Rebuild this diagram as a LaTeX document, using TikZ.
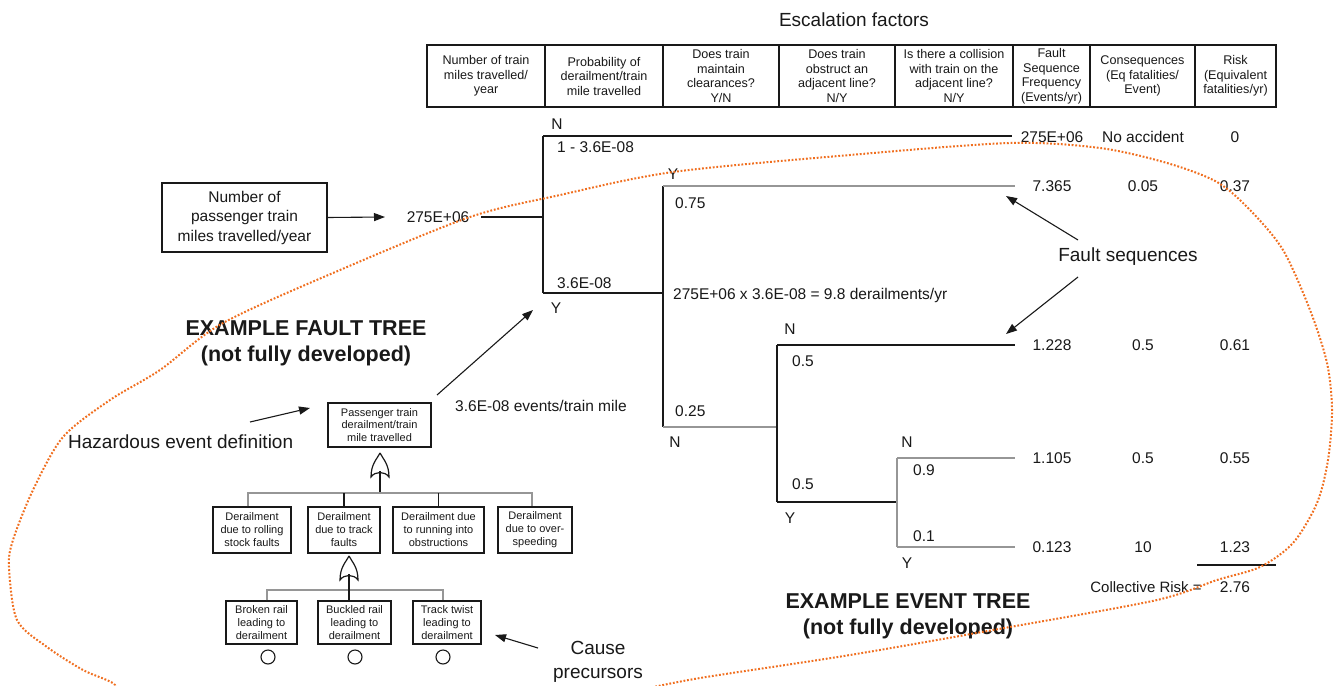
\documentclass[tikz,border=0pt]{standalone}
\usepackage{fontspec}
\setmainfont{Liberation Sans}
\usetikzlibrary{arrows.meta}
\definecolor{ink}{RGB}{25,25,25}
\definecolor{lgray}{RGB}{150,150,150}
\definecolor{dotor}{RGB}{240,110,30}
\tikzset{
  every node/.style={inner sep=0pt, text=ink},
  hdr/.style={draw=ink, line width=1.2pt, minimum height=62pt, align=center, font=\fontsize{12.6}{14.5}\selectfont},
  lab/.style={font=\fontsize{15.5}{18}\selectfont, text height=11.1pt, text depth=0pt},
  big/.style={font=\fontsize{19}{24}\selectfont, align=center},
  ttl/.style={font=\bfseries\fontsize{21.5}{26}\selectfont, align=center},
  inbox/.style={draw=ink, line width=1.3pt, align=center, font=\fontsize{15.5}{19.5}\selectfont},
  ftbox/.style={draw=ink, line width=1.3pt, align=center, font=\fontsize{11}{13}\selectfont},
  et/.style={draw=ink, line width=1.4pt},
  etg/.style={draw=lgray, line width=1.6pt},
  ftl/.style={draw=ink, line width=1.2pt},
  ftg/.style={draw=lgray, line width=1.5pt},
  arr/.style={draw=ink, line width=1.1pt, -{Triangle[length=11pt,width=8pt]}},
  orgate/.pic={\draw[ink, line width=1.2pt] (0,0) .. controls (3,6) and (9,11) .. (9,24) .. controls (5,18) and (-5,18) .. (-9,24) .. controls (-9,11) and (-3,6) .. (0,0);},
  precur/.style={draw=ink, line width=1.1pt, circle, minimum size=14pt}
}
\begin{document}
\begin{tikzpicture}[x=1pt,y=-1pt]
\useasboundingbox (0,0) rectangle (1337,685);
\fill[white] (0,0) rectangle (1337,685);

% ---------- header ----------
\node[big] (esc) at (854,20) {Escalation factors};
\node[hdr, minimum width=118pt] (h1) at (486,76) {Number of train\\miles travelled/\\year};
\node[hdr, minimum width=118pt] (h2) at (604,76) {Probability of\\derailment/train\\mile travelled};
\node[hdr, minimum width=116pt] (h3) at (721,76) {Does train\\maintain\\clearances?\\Y/N};
\node[hdr, minimum width=116pt] (h4) at (837,76) {Does train\\obstruct an\\adjacent line?\\N/Y};
\node[hdr, minimum width=118pt] (h5) at (954,76) {Is there a collision\\with train on the\\adjacent line?\\N/Y};
\node[hdr, minimum width=77pt] (h6) at (1051.5,76) {Fault\\Sequence\\Frequency\\(Events/yr)};
\node[hdr, minimum width=105pt] (h7) at (1142.5,76) {Consequences\\(Eq fatalities/\\Event)};
\node[hdr, minimum width=81pt] (h8) at (1235.5,76) {Risk\\(Equivalent\\fatalities/yr)};

% ---------- input ----------
\node[inbox, minimum width=165pt, minimum height=69pt] (inp) at (244.5,217.5) {Number of\\passenger train\\miles travelled/year};
\node[lab] (n275) at (438,217) {275E+06};
\coordinate (inarr) at (385,217);
\draw[arr] (inp.east) -- (inarr);

% ---------- event tree coordinates ----------
\coordinate (a0) at (543,217);
\coordinate (a1) at (543,136);
\coordinate (a2) at (543,293);
\coordinate (e1) at (1012,136);
\coordinate (b0) at (663,293);
\coordinate (b1) at (663,186);
\coordinate (b2) at (663,427);
\coordinate (e2) at (1015,186);
\coordinate (c0) at (777,427);
\coordinate (c1) at (777,345);
\coordinate (c2) at (777,502);
\coordinate (e3) at (1015,345);
\coordinate (d0) at (897,502);
\coordinate (d1) at (897,458);
\coordinate (d2) at (897,547);
\coordinate (e4) at (1015,458);
\coordinate (e5) at (1015,547);

\draw[et] ([xshift=12pt]n275.east) -- (a0);
\draw[et] (a1) -- (a2);
\draw[et] (a1) -- (e1);
\draw[et] (a2) -- (b0);
\draw[et] (b1) -- (b2);
\draw[etg] (b1) -- (e2);
\draw[etg] (b2) -- (c0);
\draw[et] (c1) -- (c2);
\draw[et] (c1) -- (e3);
\draw[et] (c2) -- (d0);
\draw[etg] (d1) -- (d2);
\draw[etg] (d1) -- (e4);
\draw[etg] (d2) -- (e5);

% ---------- event tree labels ----------
\node[lab] (lN1) at (557,124) {N};
\node[lab, anchor=west] (p1) at (557,147) {1 - 3.6E-08};
\node[lab, anchor=west] (p2) at (557,283) {3.6E-08};
\node[lab] (lY1) at (556,308) {Y};
\node[lab] (lY2) at (673,174) {Y};
\node[lab, anchor=west] (p3) at (675,203) {0.75};
\node[lab, anchor=west] (calc) at (673,294) {275E+06 x 3.6E-08 = 9.8 derailments/yr};
\node[lab, anchor=west] (p4) at (675,411) {0.25};
\node[lab] (lN2) at (675,442) {N};
\node[lab] (lN3) at (790,329) {N};
\node[lab, anchor=west] (p5) at (792,361) {0.5};
\node[lab, anchor=west] (p6) at (792,484) {0.5};
\node[lab] (lY3) at (790,518) {Y};
\node[lab] (lN4) at (907,442) {N};
\node[lab, anchor=west] (p7) at (913,470) {0.9};
\node[lab, anchor=west] (p8) at (913,536) {0.1};
\node[lab] (lY4) at (907,563) {Y};

% ---------- results ----------
\node[lab] (f0) at (1052,137) {275E+06};
\node[lab] (q0) at (1143,137) {No accident};
\node[lab] (r0) at (1235,137) {0};
\node[lab] (f1) at (1052,186) {7.365};
\node[lab] (q1) at (1143,186) {0.05};
\node[lab] (r1) at (1235,186) {0.37};
\node[lab] (f2) at (1052,345) {1.228};
\node[lab] (q2) at (1143,345) {0.5};
\node[lab] (r2) at (1235,345) {0.61};
\node[lab] (f3) at (1052,458) {1.105};
\node[lab] (q3) at (1143,458) {0.5};
\node[lab] (r3) at (1235,458) {0.55};
\node[lab] (f4) at (1052,547) {0.123};
\node[lab] (q4) at (1143,547) {10};
\node[lab] (r4) at (1235,547) {1.23};
\coordinate (ul1) at (1197,565);
\coordinate (ul2) at (1276,565);
\draw[et] (ul1) -- (ul2);
\node[lab, font=\fontsize{15}{18}\selectfont] (cr) at (1146,587) {Collective Risk =};
\node[lab] (r5) at (1235,587) {2.76};

\node[big] (fs) at (1128,257) {Fault sequences};
\coordinate (fsa) at (1078,240);
\coordinate (fsb) at (1078,277);
\coordinate (fst1) at (1006,196);
\coordinate (fst2) at (1006,334);
\draw[arr] (fsa) -- (fst1);
\draw[arr] (fsb) -- (fst2);

% ---------- titles ----------
\node[ttl] (ftt) at (306,343) {EXAMPLE FAULT TREE\\(not fully developed)};
\node[ttl] (ett) at (908,616) {EXAMPLE EVENT TREE\\(not fully developed)};

% ---------- fault tree ----------
\node[ftbox, minimum width=103pt, minimum height=44pt, font=\fontsize{11}{12.5}\selectfont] (top) at (379.5,425) {Passenger train\\derailment/train\\mile travelled};
\node[lab, anchor=west] (evm) at (455,406) {3.6E-08 events/train mile};
\coordinate (fta) at (437,395);
\coordinate (ftb) at (533,310);
\draw[arr] (fta) -- (ftb);

\node[big, anchor=west] (haz) at (68,442) {Hazardous event definition};
\coordinate (hza) at (250,422);
\coordinate (hzb) at (310,408);
\draw[arr] (hza) -- (hzb);

\pic at (380,453) {orgate};
\coordinate (g1out) at (380,471);
\coordinate (bar1) at (380,493);
\draw[ftl] (g1out) -- (bar1);

\node[ftbox, minimum width=78pt, minimum height=46pt] (l1) at (252,530) {Derailment\\due to rolling\\stock faults};
\node[ftbox, minimum width=72pt, minimum height=46pt] (l2) at (344,530) {Derailment\\due to track\\faults};
\node[ftbox, minimum width=91pt, minimum height=46pt] (l3) at (438.5,530) {Derailment due\\to running into\\obstructions};
\node[ftbox, minimum width=74pt, minimum height=46pt] (l4) at (535,530) {Derailment\\due to over-\\speeding};

\coordinate (u1) at (248,493);
\coordinate (u4) at (532,493);
\draw[ftg] (u1 |- l1.north) -- (u1) -- (u4) -- (u4 |- l4.north);
\draw[ftl] (l2.north) -- (l2.north |- bar1);
\draw[ftl] (l3.north) -- (l3.north |- bar1);

\pic at (349,556) {orgate};
\coordinate (g2out) at (349,574);

\node[ftbox, minimum width=71pt, minimum height=43pt] (k1) at (261.5,622.5) {Broken rail\\leading to\\derailment};
\node[ftbox, minimum width=73pt, minimum height=43pt] (k2) at (354.5,622.5) {Buckled rail\\leading to\\derailment};
\node[ftbox, minimum width=68pt, minimum height=43pt] (k3) at (447,622.5) {Track twist\\leading to\\derailment};

\coordinate (t1) at (267,590);
\coordinate (t3) at (443,590);
\draw[ftg] (t1 |- k1.north) -- (t1) -- (t3) -- (t3 |- k3.north);
\draw[ftl] (g2out) -- (g2out |- k2.north);

\node[precur] (c1n) at (268,657) {};
\node[precur] (c2n) at (355,657) {};
\node[precur] (c3n) at (443,657) {};

\node[big] (cp) at (598,662) {Cause\\precursors};
\coordinate (cpa) at (538,648);
\coordinate (cpb) at (495,635);
\draw[arr] (cpa) -- (cpb);

% ---------- dotted boundary ----------
\begin{scope}
\clip (0,0) rectangle (1337,685);
\draw[dotor, line width=2pt, dash pattern=on 1.8pt off 1.8pt] plot[smooth] coordinates {
(100,700) (115,685) (83,670) (47,647) (17,620) (9,567) (13,540) (33,490) (63,437) (110,400) (160,370) (223,323) (340,270) (470,217) (560,195) (673,172) (850,155) (1010,143) (1100,148) (1167,163) (1217,182) (1250,210) (1283,250) (1310,310) (1327,363) (1332,410) (1328,460) (1317,503) (1293,543) (1260,567) (1217,580) (1157,600) (1010,627) (850,655) (700,678) (640,690)};
\end{scope}
\end{tikzpicture}
\end{document}
